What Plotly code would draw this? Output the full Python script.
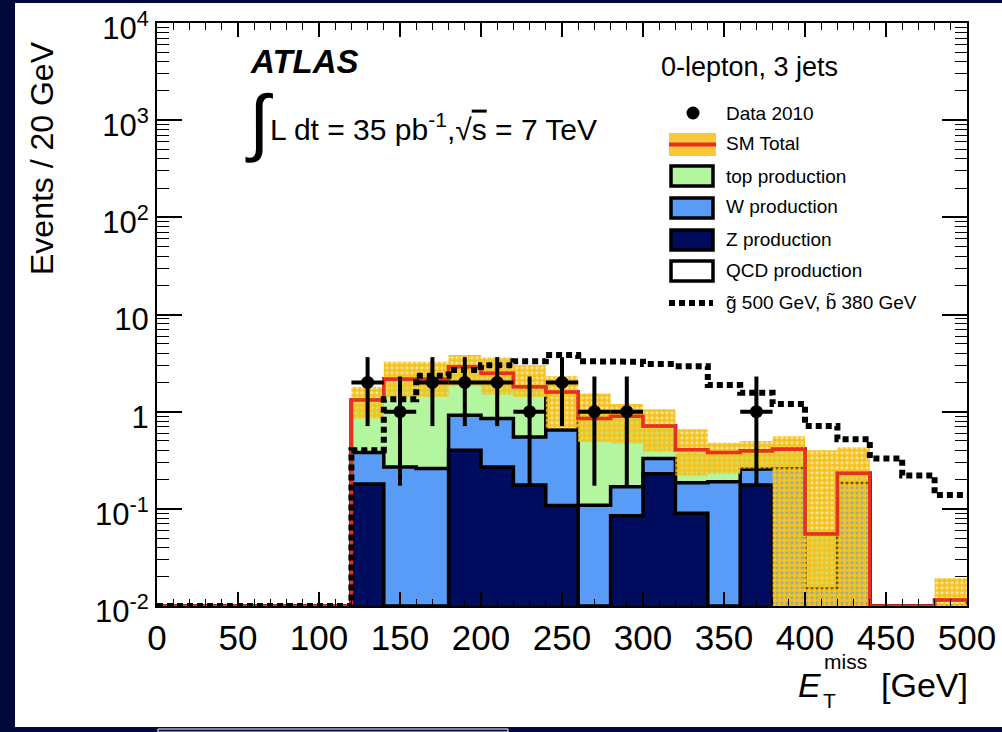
import plotly.graph_objects as go

# ---------------------------------------------------------------- data
bin_edges = list(range(0, 520, 20))            # E_T^miss bins [GeV]

z_prod   = [0]*6 + [0.18, 0, 0, 0.40, 0.27, 0.176, 0.108, 0, 0.085, 0.23, 0.09, 0, 0.176, 0, 0, 0, 0, 0, 0]
w_prod   = [0]*6 + [0.20, 0.27, 0.26, 0.52, 0.58, 0.374, 0.539, 0.109, 0.084, 0.10, 0.096, 0.19, 0.079, 0.26, 0.015, 0.183, 0, 0, 0]
top_prod = [0]*6 + [0.94, 1.88, 1.89, 1.98, 1.63, 1.25, 0, 0.74, 0.73, 0.38, 0.22, 0.19, 0.14, 0.15, 0.04, 0.05, 0, 0, 0]
qcd_prod = [0]*6 + [0, 0, 0, 0, 0, 0, 0.95, 0, 0, 0, 0, 0, 0, 0, 0, 0, 0, 0, 0.0115]

sm_band_hi = [0]*6 + [1.80, 3.26, 3.26, 3.82, 3.60, 3.00, 2.32, 1.54, 1.20, 1.06, 0.66, 0.48, 0.50, 0.56, 0.40, 0.43, 0, 0, 0.0193]
sm_band_lo = [0]*6 + [0.85, 1.42, 1.42, 1.85, 1.50, 1.42, 0.67, 0.49, 0.47, 0.39, 0.22, 0.23, 0.26, 0, 0, 0, 0, 0, 0]

signal = [0]*6 + [0.40, 1.34, 2.34, 2.68, 3.00, 3.31, 3.82, 3.31, 3.26, 3.09, 2.94, 1.88, 1.57, 1.20, 0.71, 0.52, 0.33, 0.22, 0.139]

data_x      = [130, 150, 170, 190, 210, 230, 250, 270, 290, 370]
data_n      = [2, 1, 2, 2, 2, 1, 2, 1, 1, 1]
data_lo_end = [0.71, 0.173, 0.71, 0.71, 0.71, 0.173, 0.71, 0.173, 0.173, 0.173]
data_hi_end = [3.64, 2.30, 3.64, 3.64, 3.64, 2.30, 3.64, 2.30, 2.30, 2.30]

y_tickvals = [1e-2, 1e-1, 1, 10, 1e2, 1e3, 1e4]
y_ticktext = ["10<sup>-2</sup>", "10<sup>-1</sup>", "1", "10", "10<sup>2</sup>", "10<sup>3</sup>", "10<sup>4</sup>"]
x_tickvals = list(range(0, 550, 50))

# ---------------------------------------------------------------- styles
NAVY_BG = "#03083a"
C_TOP = "#b4f5a0"
C_W = "#589cf7"
C_Z = "#000c5e"
C_RED = "#e8301e"
C_BAND = "#f5c21e"
SANS = "Liberation Sans, Arial, sans-serif"

W_PX, H_PX = 1002, 732
PL, PR, PT, PB = 157, 967, 23, 606   # plot area in pixels


def px(x):
    return (x - PL) / (PR - PL)


def py(y):
    return (PB - y) / (PB - PT)


FLOOR = 1e-2   # axis minimum: empty bins sit on it
HIDE = 1e-3    # below the axis, used to close fills


def step_xy(vals):
    xs, ys = [], []
    for i, v in enumerate(vals):
        xs += [bin_edges[i], bin_edges[i + 1]]
        ys += [v, v]
    return xs, ys


def stack_polygon(vals):
    xs, ys = step_xy([max(v, FLOOR) for v in vals])
    return xs + [bin_edges[-1], bin_edges[0]], ys + [HIDE, HIDE]


cum_z = z_prod
cum_w = [a + b for a, b in zip(cum_z, w_prod)]
cum_top = [a + b for a, b in zip(cum_w, top_prod)]
sm_total = [a + b for a, b in zip(cum_top, qcd_prod)]

fig = go.Figure()

# stacked backgrounds, tallest first
for vals, col in [(sm_total, "white"), (cum_top, C_TOP), (cum_w, C_W), (cum_z, C_Z)]:
    xs, ys = stack_polygon(vals)
    fig.add_trace(go.Scatter(x=xs, y=ys, mode="lines", fill="toself", fillcolor=col,
                             line=dict(color="black", width=3.5), hoverinfo="skip",
                             showlegend=False))

# SM uncertainty band
ux, uy = step_xy([v if v > 0 else HIDE for v in sm_band_hi])
lx, ly = step_xy([v if v > 0 else HIDE for v in sm_band_lo])
fig.add_trace(go.Scatter(x=ux + lx[::-1], y=uy + ly[::-1], mode="lines", fill="toself",
                         fillcolor="rgba(0,0,0,0)", line=dict(width=0),
                         fillpattern=dict(shape=".", fgcolor=C_BAND, bgcolor="rgba(245,194,30,0.3)",
                                          size=5, solidity=0.78, fgopacity=1),
                         hoverinfo="skip", showlegend=False))

# SM total
sx, sy = step_xy([max(v, FLOOR) for v in sm_total])
fig.add_trace(go.Scatter(x=sx, y=sy, mode="lines", line=dict(color=C_RED, width=3.5),
                         hoverinfo="skip", showlegend=False))

# signal point
gx, gy = step_xy([max(v, FLOOR) for v in signal])
fig.add_trace(go.Scatter(x=gx, y=gy, mode="lines",
                         line=dict(color="black", width=6, dash="6px,4px"),
                         hoverinfo="skip", showlegend=False))

# data
fig.add_trace(go.Scatter(
    x=data_x, y=data_n, mode="markers",
    marker=dict(color="black", size=13),
    error_y=dict(type="data", symmetric=False,
                 array=[h - n for h, n in zip(data_hi_end, data_n)],
                 arrayminus=[n - l for l, n in zip(data_lo_end, data_n)],
                 color="black", thickness=4, width=0),
    error_x=dict(type="constant", value=10, color="black", thickness=4, width=0),
    showlegend=False))

# ---------------------------------------------------------------- decorations
shapes = [
    dict(type="rect", xref="paper", yref="paper", x0=px(15), x1=px(1002), y0=py(3), y1=py(727),
         fillcolor="white", line=dict(width=0), layer="below"),
    dict(type="rect", xref="paper", yref="paper", x0=px(158), x1=px(508), y0=py(729), y1=py(732),
         fillcolor="rgba(0,0,0,0)", line=dict(color="white", width=1), layer="below"),
]

# legend
shapes.append(dict(type="circle", xref="paper", yref="paper", x0=px(686.5), x1=px(699.5),
                   y0=py(106.5), y1=py(119.5), fillcolor="black", line=dict(width=0)))
shapes.append(dict(type="rect", xref="paper", yref="paper", x0=px(669), x1=px(716),
                   y0=py(133), y1=py(156), fillcolor="#f7c83a", line=dict(width=0)))
shapes.append(dict(type="line", xref="paper", yref="paper", x0=px(669), x1=px(716),
                   y0=py(144.5), y1=py(144.5), line=dict(color=C_RED, width=4)))
for (y0, y1), col in [((166, 186), C_TOP), ((198, 218), C_W), ((230, 250), C_Z), ((261, 281), "white")]:
    shapes.append(dict(type="rect", xref="paper", yref="paper", x0=px(671), x1=px(713),
                       y0=py(y0), y1=py(y1), fillcolor=col, line=dict(color="black", width=3.5)))
shapes.append(dict(type="line", xref="paper", yref="paper", x0=px(669), x1=px(713),
                   y0=py(303), y1=py(303), line=dict(color="black", width=6, dash="6px,4px")))

annotations = []


def label(text, x, y, size, family=SANS, xanchor="left", color="black", **kw):
    annotations.append(dict(text=text, xref="paper", yref="paper", x=px(x), y=py(y),
                            xanchor=xanchor, yanchor="middle", showarrow=False,
                            font=dict(size=size, family=family, color=color), **kw))


legend_rows = [("Data 2010", 113), ("SM Total", 144), ("top production", 176),
               ("W production", 207), ("Z production", 239), ("QCD production", 270),
               ("g\u0303 500 GeV, b\u0303 380 GeV", 302)]
for txt, yy in legend_rows:
    label(txt, 724, yy, 19)

label("<b><i>ATLAS</i></b>", 248, 62, 33)
label("\u222b", 243, 122, 74)
label("L dt = 35 pb<sup>-1</sup>,\u221a<span style='text-decoration:overline'>s</span> = 7 TeV",
      268, 127, 30)
label("0-lepton, 3 jets", 659, 67, 27)

label("Events / 20 GeV", 42, 158, 32, xanchor="center", textangle=-90)
label("<i>E</i>", 796, 685, 34)
label("miss", 822, 661, 21)
label("T", 821, 700, 21)
label("[GeV]", 879, 685, 34)

minor_y = [k * 10.0 ** d for d in range(-2, 4) for k in range(2, 10)]
minor_x = [v for v in range(0, 510, 10) if v % 50]

fig.update_layout(
    width=W_PX, height=H_PX,
    margin=dict(l=PL, r=W_PX - PR, t=PT, b=H_PX - PB),
    paper_bgcolor=NAVY_BG, plot_bgcolor="white",
    shapes=shapes, annotations=annotations,
    xaxis=dict(range=[0, 500], showgrid=False, zeroline=False, automargin=False,
               showline=True, linecolor="black", linewidth=2, mirror="ticks",
               ticks="inside", ticklen=14, tickwidth=1.5, tickcolor="black",
               tickmode="array", tickvals=x_tickvals, ticklabeloverflow="allow",
               tickfont=dict(family=SANS, size=35, color="black"),
               minor=dict(ticks="inside", ticklen=7, tickwidth=1.2, tickcolor="black",
                          tickmode="array", tickvals=minor_x)),
    yaxis=dict(type="log", range=[-2, 4], showgrid=False, zeroline=False, automargin=False,
               showline=True, linecolor="black", linewidth=2, mirror="ticks",
               ticks="inside", ticklen=25, tickwidth=1.5, tickcolor="black",
               tickmode="array", tickvals=y_tickvals, ticktext=y_ticktext,
               ticklabeloverflow="allow", ticklabelshift=5,
               tickfont=dict(family=SANS, size=31, color="black"),
               minor=dict(ticks="inside", ticklen=12, tickwidth=1.2, tickcolor="black",
                          tickmode="array", tickvals=minor_y)),
)

fig.write_html("out.html")
